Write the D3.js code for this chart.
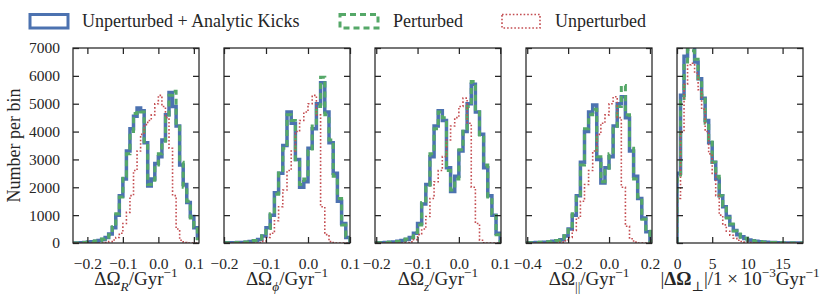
<!doctype html>
<html>
<head>
<meta charset="utf-8">
<script src="https://d3js.org/d3.v7.min.js"></script>
<style>
    body { margin: 0; background: #fff; }
    text { font-family: "Liberation Serif", "DejaVu Serif", serif; fill: #262626; }
</style>
</head>
<body>
<svg id="chart" width="830" height="306"></svg>
<script>

// series names, in legend order
var seriesNames = ["Unperturbed + Analytic Kicks", "Perturbed", "Unperturbed"];
var yTicks = [0, 1000, 2000, 3000, 4000, 5000, 6000, 7000];

// panel 1: Delta Omega_R  (bins of 0.01 starting at -0.24)
var binStartR = -0.24, binWidthR = 0.01;
var kicksR  = [0,0,10,20,30,45,60,90,130,200,320,550,1000,1700,2300,3300,4100,4550,4850,4750,3600,2050,2300,2850,3100,3700,4600,5400,4900,4200,2800,2100,1450,950,550,180];
var pertR   = [0,0,15,20,35,40,70,80,140,210,300,580,1050,1650,2400,3200,4000,4650,4750,4700,3500,2100,2250,2800,3200,3650,4500,5300,5450,4300,2900,2000,1500,900,580,150];
var unpertR = [0,0,0,0,0,0,0,0,0,20,50,110,200,350,700,1100,1700,2600,3300,3900,4250,4400,4600,5000,5300,4900,4500,3400,1700,500,100,20,0,0,0,0];
var xTicksR = [-0.2, -0.1, 0.0, 0.1];

// panel 2: Delta Omega_phi  (bins of 0.01 starting at -0.2)
var binStartPhi = -0.2, binWidthPhi = 0.01;
var kicksPhi  = [5,5,10,15,20,30,50,80,130,250,550,1000,1800,2500,3500,4700,4300,3000,2000,2200,3400,4100,5000,5750,4700,3600,2500,1500,700,200];
var pertPhi   = [5,10,10,20,25,35,45,90,140,260,520,1050,1750,2600,3400,4600,4400,2900,2100,2300,3300,4200,4900,5950,4600,3700,2400,1600,650,250];
var unpertPhi = [0,0,0,0,0,0,0,0,20,60,200,350,800,1300,1900,2600,3300,4000,4400,4700,5000,5300,4600,1300,300,50,0,0,0,0];
var xTicksPhi = [-0.2, -0.1, 0.0, 0.1];

// panel 3: Delta Omega_z  (bins of 0.01 starting at -0.2)
var binStartZ = -0.2, binWidthZ = 0.01;
var kicksZ  = [5,10,15,25,40,60,90,130,200,350,700,1400,2100,3100,4200,4750,4400,2700,1850,2400,3300,4000,5000,5700,4700,3900,2700,1700,1000,350];
var pertZ   = [5,10,20,25,45,55,100,140,190,380,650,1450,2000,3200,4100,4700,4500,2600,1900,2300,3350,4100,4900,5800,4800,3800,2800,1650,1050,300];
var unpertZ = [0,0,0,0,0,0,0,15,40,120,300,500,950,1600,2200,2600,3100,3700,4200,4500,4900,5200,4300,2000,700,100,0,0,0,0];
var xTicksZ = [-0.2, -0.1, 0.0, 0.1];

// panel 4: Delta Omega_parallel  (bins of 0.02 starting at -0.4)
var binStartPar = -0.4, binWidthPar = 0.02;
var kicksPar  = [5,10,15,20,30,40,60,80,120,250,500,1000,1700,2900,4000,4700,4950,3000,2150,2700,3100,4200,5000,5250,4500,3300,2400,1600,900,400,80];
var pertPar   = [5,10,15,25,30,45,55,90,110,260,480,1050,1650,2800,4100,4600,4800,3100,2200,2600,3200,4100,4900,5650,4600,3400,2300,1650,850,420,60];
var unpertPar = [0,0,0,0,0,0,0,0,30,80,200,450,900,1500,2100,2600,3300,3900,4300,4600,5000,5250,4500,2000,600,150,30,0,0,0,0];
var xTicksPar = [-0.4, -0.2, 0.0, 0.2];

// panel 5: |Delta Omega_perp| in 1e-3 Gyr^-1  (bins of 0.5 starting at 0)
var binStartPerp = 0, binWidthPerp = 0.5;
var kicksPerp  = [2500,5300,6700,7100,7100,6500,5900,5200,4400,3600,2900,2300,1700,1300,950,650,450,300,220,160,110,80,60,45,35,25,20,15,10,6,3,0,0,0,0,0];
var pertPerp   = [2300,5100,6500,6950,6900,6600,5900,5300,4300,3700,2900,2400,1700,1350,900,680,430,320,210,170,100,85,55,50,30,25,15,15,8,5,2,0,0,0,0,0];
var unpertPerp = [1600,4000,5700,6400,6450,6100,5500,4800,4000,3200,2500,1700,1000,650,420,280,170,100,55,30,15,8,0,0,0,0,0,0,0,0,0,0,0,0,0,0];
var xTicksPerp = [0, 5, 10, 15];

var panels = [
    { start: binStartR, bw: binWidthR, series: [kicksR, pertR, unpertR], xlim: [-0.2405, 0.1145], ticks: xTicksR, fmt: ".1f",
      label: [{t: "ΔΩ"}, {t: "R", sub: 1, it: 1}, {t: "/Gyr"}, {t: "−1", sup: 1}] },
    { start: binStartPhi, bw: binWidthPhi, series: [kicksPhi, pertPhi, unpertPhi], xlim: [-0.2, 0.1], ticks: xTicksPhi, fmt: ".1f",
      label: [{t: "ΔΩ"}, {t: "ϕ", sub: 1, it: 1}, {t: "/Gyr"}, {t: "−1", sup: 1}] },
    { start: binStartZ, bw: binWidthZ, series: [kicksZ, pertZ, unpertZ], xlim: [-0.203, 0.102], ticks: xTicksZ, fmt: ".1f",
      label: [{t: "ΔΩ"}, {t: "z", sub: 1, it: 1}, {t: "/Gyr"}, {t: "−1", sup: 1}] },
    { start: binStartPar, bw: binWidthPar, series: [kicksPar, pertPar, unpertPar], xlim: [-0.406, 0.21], ticks: xTicksPar, fmt: ".1f",
      label: [{t: "ΔΩ"}, {t: "||", sub: 1}, {t: "/Gyr"}, {t: "−1", sup: 1}] },
    { start: binStartPerp, bw: binWidthPerp, series: [kicksPerp, pertPerp, unpertPerp], xlim: [0, 17.9], ticks: xTicksPerp, fmt: "d",
      label: [{t: "|"}, {t: "ΔΩ", bold: 1}, {t: "⊥", sub: 1}, {t: "|/1 × 10"}, {t: "−3", sup: 1}, {t: "Gyr"}, {t: "−1", sup: 1}] }
];

var colors = ["#4C72B0", "#55A868", "#C44E52"];
var widths = [3.5, 3, 1.6];
var dashes = [null, "6,4", "1.6,2"];

var svg = d3.select("#chart"),
    plotTop = 48, plotBottom = 243, pw = 126,
    lefts = [73, 224, 375, 526, 677],
    ink = "#262626";

var y = d3.scaleLinear().domain([0, 7000]).range([plotBottom, plotTop]);

// writes a label with sub/superscripts into a text element
function addParts(sel, parts, fs) {
    var shift = 0;
    parts.forEach(function(p) {
        var target = p.sub ? fs * 0.3 : (p.sup ? -fs * 0.42 : 0);
        var ts = sel.append("tspan").attr("dy", target - shift).text(p.t);
        shift = target;
        if (p.sub || p.sup) ts.attr("font-size", fs * 0.7);
        if (p.it) ts.attr("font-style", "italic");
        if (p.bold) ts.attr("font-weight", "bold");
    });
}

panels.forEach(function(p, i) {
    var x0 = lefts[i], x1 = lefts[i] + pw;
    var x = d3.scaleLinear().domain(p.xlim).range([x0, x1]);

    svg.append("clipPath").attr("id", "clip" + i)
       .append("rect").attr("x", x0).attr("y", plotTop).attr("width", pw).attr("height", plotBottom - plotTop);

    var line = d3.line().x(function(d) { return x(d[0]); }).y(function(d) { return y(d[1]); });
    var g = svg.append("g").attr("clip-path", "url(#clip" + i + ")");

    p.series.forEach(function(counts, k) {
        var pts = [[p.start, 0]];
        counts.forEach(function(c, j) {
            pts.push([p.start + j * p.bw, c]);
            pts.push([p.start + (j + 1) * p.bw, c]);
        });
        pts.push([p.start + counts.length * p.bw, 0]);
        g.append("path")
         .attr("d", line(pts))
         .attr("fill", "none")
         .attr("stroke", colors[k])
         .attr("stroke-width", widths[k])
         .attr("stroke-linejoin", "miter")
         .attr("stroke-dasharray", dashes[k]);
    });

    // inward ticks on all four sides
    var axB = svg.append("g").attr("transform", "translate(0," + plotBottom + ")")
        .call(d3.axisBottom(x).tickValues(p.ticks).tickSize(-6).tickPadding(15).tickFormat(d3.format(p.fmt)));
    var axT = svg.append("g").attr("transform", "translate(0," + plotTop + ")")
        .call(d3.axisTop(x).tickValues(p.ticks).tickSize(-6).tickFormat(""));
    var axL = svg.append("g").attr("transform", "translate(" + x0 + ",0)")
        .call(d3.axisLeft(y).tickValues(yTicks).tickSize(-6).tickPadding(13).tickFormat(i === 0 ? d3.format("d") : ""));
    var axR = svg.append("g").attr("transform", "translate(" + x1 + ",0)")
        .call(d3.axisRight(y).tickValues(yTicks).tickSize(-6).tickFormat(""));

    [axB, axT, axL, axR].forEach(function(a) {
        a.attr("font-family", null).attr("font-size", 15.5);
        a.select(".domain").remove();
        a.selectAll(".tick line").attr("stroke", ink).attr("stroke-width", 1.25);
        a.selectAll(".tick text").attr("fill", ink);
    });

    svg.append("rect")
       .attr("x", x0).attr("y", plotTop).attr("width", pw).attr("height", plotBottom - plotTop)
       .attr("fill", "none").attr("stroke", ink).attr("stroke-width", 1.25);

    var lab = svg.append("text")
       .attr("x", (x0 + x1) / 2).attr("y", 285)
       .attr("text-anchor", "middle")
       .attr("font-size", 19);
    addParts(lab, p.label, 19);
});

svg.append("text")
   .attr("transform", "translate(20," + (plotTop + plotBottom) / 2 + ") rotate(-90)")
   .attr("text-anchor", "middle")
   .attr("font-size", 18)
   .text("Number per bin");

// legend
var legX = [30, 340, 502], legT = [82, 393, 555];
seriesNames.forEach(function(name, k) {
    svg.append("rect")
       .attr("x", legX[k]).attr("y", 14.5).attr("width", 38).attr("height", 13.5)
       .attr("fill", "none")
       .attr("stroke", colors[k])
       .attr("stroke-width", widths[k] === 3.5 ? 3 : widths[k])
       .attr("stroke-dasharray", dashes[k]);
    svg.append("text")
       .attr("x", legT[k]).attr("y", 26.7)
       .attr("font-size", 18)
       .text(name);
});

</script>
</body>
</html>
